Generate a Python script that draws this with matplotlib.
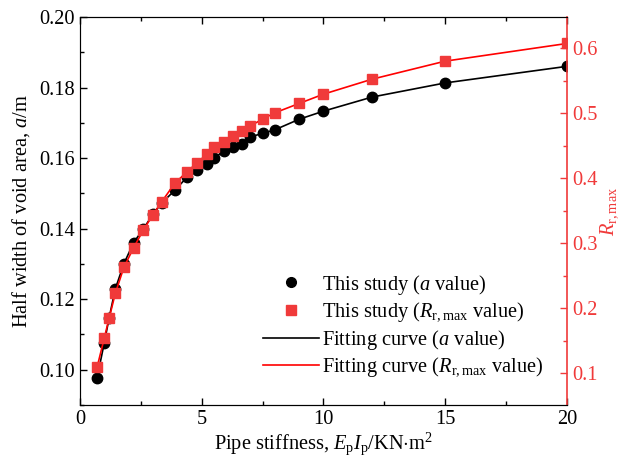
import matplotlib
matplotlib.use("Agg")
import matplotlib.pyplot as plt
from matplotlib.lines import Line2D
from matplotlib.ticker import MultipleLocator

plt.rcParams["font.family"] = ["Liberation Serif", "DejaVu Serif"]
plt.rcParams["mathtext.fontset"] = "custom"
plt.rcParams["mathtext.rm"] = "Liberation Serif"
plt.rcParams["mathtext.it"] = "Liberation Serif:italic"

FS = 14.7

# ── data ──────────────────────────────────────────────────────
stiffness = [0.7, 1.0, 1.2, 1.45, 1.8, 2.2, 2.6, 3.0, 3.35, 3.9, 4.4,
             4.8, 5.2, 5.5, 5.9, 6.3, 6.65, 7.0, 7.5, 8.0, 9.0, 10, 12, 15, 20]
a_value = [0.0976, 0.1077, 0.1148, 0.1229, 0.1300, 0.1360, 0.1399, 0.1441,
           0.1472, 0.1509, 0.1546, 0.1567, 0.1584, 0.1599, 0.1620, 0.1630,
           0.1640, 0.1660, 0.1670, 0.1680, 0.1710, 0.1733, 0.1773, 0.1813, 0.1860]
r_value = [0.1088, 0.1543, 0.1850, 0.2226, 0.2626, 0.2928, 0.3200, 0.3440,
           0.3633, 0.3925, 0.4097, 0.4235, 0.4364, 0.4472, 0.4559, 0.4646,
           0.4728, 0.4805, 0.4908, 0.5005, 0.5149, 0.5292, 0.5523, 0.5800, 0.6072]

RED = "#f03a3a"
LINE_RED = "#ff0000"

fig = plt.figure(figsize=(6.2, 4.58), dpi=100)
ax = fig.add_axes([0.129, 0.1157, 0.7855, 0.8473])
ax2 = ax.twinx()

# ── left axis: a value ────────────────────────────────────────
ax.plot(stiffness, a_value, color="black", lw=1.2, zorder=2)
ax.plot(stiffness, a_value, "o", color="black", ms=7.5, zorder=3)
ax.set_xlim(0, 20)
ax.set_ylim(0.09, 0.20)
ax.xaxis.set_major_locator(MultipleLocator(5))
ax.xaxis.set_minor_locator(MultipleLocator(2.5))
ax.yaxis.set_major_locator(MultipleLocator(0.02))
ax.yaxis.set_minor_locator(MultipleLocator(0.01))
ax.yaxis.set_major_formatter(lambda v, p: f"{v:.2f}")
ax.tick_params(which="both", direction="in", top=True, right=False, labelsize=FS, width=1)
ax.tick_params(which="major", length=5)
ax.tick_params(which="minor", length=3)
ax.spines["left"].set_color("#555555")
ax.spines["right"].set_visible(False)
ax.set_xlabel(r"Pipe stiffness, $E_{\mathrm{p}}I_{\mathrm{p}}$/KN$\cdot$m$^{2}$", fontsize=FS, labelpad=1)
ax.set_ylabel(r"Half width of void area, $a$/m", fontsize=FS, labelpad=5)

# ── right axis: R_r,max ───────────────────────────────────────
ax2.plot(stiffness, r_value, color=LINE_RED, lw=1.2, zorder=2)
ax2.plot(stiffness, r_value, "s", color=RED, ms=7, zorder=3)
ax2.set_ylim(0.051, 0.648)
ax2.yaxis.set_major_locator(MultipleLocator(0.1))
ax2.yaxis.set_minor_locator(MultipleLocator(0.05))
ax2.tick_params(which="both", direction="in", colors=RED, labelsize=FS, width=1)
ax2.tick_params(which="major", length=5)
ax2.tick_params(which="minor", length=3)
ax2.spines["right"].set_color(RED)
ax2.spines["right"].set_linewidth(1.2)
ax2.set_ylabel(r"$R_{\mathrm{r,max}}$", color=RED, fontsize=FS, labelpad=0.5)

# ── legend ────────────────────────────────────────────────────
handles = [
    Line2D([], [], ls="none", marker="o", color="black", ms=7),
    Line2D([], [], ls="none", marker="s", color=RED, ms=6.5),
    Line2D([], [], color="black", lw=1.2),
    Line2D([], [], color=LINE_RED, lw=1.2),
]
labels = [
    r"This study ($a$ value)",
    r"This study ($R_{\mathrm{r,max}}$ value)",
    r"Fitting curve ($a$ value)",
    r"Fitting curve ($R_{\mathrm{r,max}}$ value)",
]
ax2.legend(handles, labels, loc="center", bbox_to_anchor=(0.664, 0.204),
           frameon=False, fontsize=FS, handlelength=2.7, handletextpad=0.15,
           labelspacing=0.2, borderaxespad=0)

fig.savefig("out.png", dpi=100)
